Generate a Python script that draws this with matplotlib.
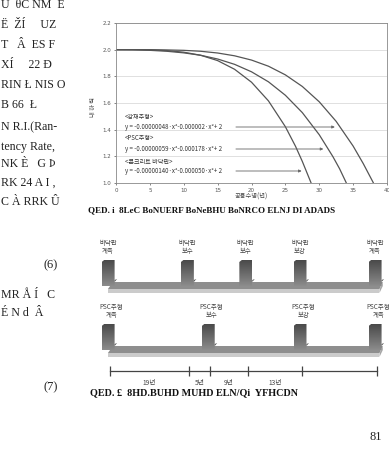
import numpy as np
import matplotlib
matplotlib.use("Agg")
import matplotlib.pyplot as plt
from matplotlib.patches import Polygon
from matplotlib.colors import LinearSegmentedColormap

# ── data ────────────────────────────────────────────────────────────────────
# 공용수명(년) vs 내하력
steel_x = [0, 2.5, 5, 7.5, 10, 12.5, 15, 17.5, 20, 22.5, 25, 27.5, 30, 32.5, 35, 36.5, 38]
steel_y = [2.000, 2.000, 2.000, 1.998, 1.995, 1.988, 1.975, 1.954, 1.922, 1.876,
           1.811, 1.724, 1.609, 1.462, 1.277, 1.145, 1.0]
psc_x = [0, 2.5, 5, 7.5, 10, 12.5, 15, 17.5, 20, 22.5, 25, 27.5, 30, 32, 33, 34]
psc_y = [2.000, 1.999, 1.995, 1.988, 1.976, 1.958, 1.930, 1.890, 1.834, 1.759,
         1.658, 1.528, 1.362, 1.199, 1.107, 1.0]
conc_x = [0, 2.5, 5, 7.5, 10, 12.5, 15, 17.5, 20, 22.5, 25, 26.5, 27.5, 28.8]
conc_y = [2.000, 2.000, 1.998, 1.993, 1.981, 1.958, 1.918, 1.853, 1.756, 1.616,
          1.422, 1.275, 1.162, 1.0]

x_ticks = [0, 5, 10, 15, 20, 25, 30, 35, 40]
y_ticks = [1.0, 1.2, 1.4, 1.6, 1.8, 2.0, 2.2]

note_titles = ["<강재주형>", "<PSC주형>", "<콘크리트 바닥판>"]
note_eqs = ["y = -0.00000048·x⁴-0.000002·x²+ 2",
            "y = -0.00000059·x⁴-0.000178·x²+ 2",
            "y = -0.00000140·x⁴-0.000050·x²+ 2"]
note_tip_x = [32.3, 30.6, 27.4]

# 유지관리 시나리오 (년)
deck_labels = ["바닥판\n계측", "바닥판\n보수", "바닥판\n보수", "바닥판\n보강", "바닥판\n계측"]
deck_years = [0, 19, 33, 46, 64]
girder_labels = ["PSC주형\n계측", "PSC주형\n보수", "PSC주형\n보강", "PSC주형\n계측"]
girder_years = [0, 24, 46, 64]
interval_years = [19, 5, 9, 13]
span_end = 64

# ── figure (pixel based layout) ─────────────────────────────────────────────
W, H = 389, 455
KR = ["Noto Sans CJK KR", "DejaVu Sans"]
SERIF = ["Liberation Serif", "DejaVu Serif"]
fig = plt.figure(figsize=(W / 100, H / 100), dpi=100)
fig.patch.set_facecolor("white")


def px_axes(l, t, r, b):
    return fig.add_axes([l / W, 1 - b / H, (r - l) / W, (b - t) / H])


def ft(x, y, s, **kw):
    fig.text(x / W, 1 - y / H, s, **kw)


# ── chart ───────────────────────────────────────────────────────────────────
ax = px_axes(116, 23, 387, 183)
for v in y_ticks:
    ax.axhline(v, color="#dadada", lw=0.6, zorder=0)
line_kw = dict(color="#555555", lw=0.9, solid_capstyle="round")
ax.plot(steel_x, steel_y, **line_kw)
ax.plot(psc_x, psc_y, **line_kw)
ax.plot(conc_x, conc_y, **line_kw)
ax.set_xlim(0, 40)
ax.set_ylim(1.0, 2.2)
ax.set_xticks(x_ticks)
ax.set_yticks(y_ticks)
ax.set_yticklabels([f"{v:.1f}" for v in y_ticks])
ax.tick_params(labelsize=4, length=1.5, width=0.5, colors="#555555", pad=2)
for sp in ax.spines.values():
    sp.set_color("#888888")
    sp.set_linewidth(0.6)

title_y = [1.495, 1.3375, 1.1575]
eq_y = [1.42, 1.255, 1.09]
for t, e, tx, ty, ey in zip(note_titles, note_eqs, note_tip_x, title_y, eq_y):
    ax.text(1.3, ty, t, fontsize=4.4, family=KR, color="#333333", va="center")
    ax.text(1.3, ey, e, fontsize=4.4, family=KR, color="#333333", va="center")
    ax.annotate("", xy=(tx, ey), xytext=(17.7, ey),
                arrowprops=dict(arrowstyle="-|>", color="#666666", lw=0.6,
                                mutation_scale=4, shrinkA=0, shrinkB=0))

ft(93, 107, "내 하 력", fontsize=4.5, family=KR, color="#444444",
   rotation=90, ha="center", va="center")
ft(251, 197, "공용수명(년)", fontsize=4.5, family=KR, color="#444444",
   ha="center", va="center")

# ── timeline diagram ────────────────────────────────────────────────────────
# 267 px for 64 years, with 3 years of margin on each side
tl = px_axes(97.5, 225, 389.5, 400)
tl.axis("off")
block_cmap = LinearSegmentedColormap.from_list("blk", ["#8c8c8c", "#6a6a6a", "#4a4a4a"])


def draw_beam(top):
    x0, x1 = -0.5, span_end + 1.4
    face = Polygon([(x0, top + 7), (x0 + 1.2, top), (x1, top), (x1 - 0.8, top + 7)],
                   closed=True, fc="#8e8e8e", ec="none")
    front = Polygon([(x0, top + 7), (x1 - 0.8, top + 7), (x1 - 0.8, top + 11), (x0, top + 11)],
                    closed=True, fc="#cbcbcb", ec="none")
    side = Polygon([(x1 - 0.8, top + 7), (x1, top), (x1, top + 4), (x1 - 0.8, top + 11)],
                   closed=True, fc="#a8a8a8", ec="none")
    for p in (face, front, side):
        tl.add_patch(p)


def draw_marker(xc, top, bottom):
    x0, x1 = xc - 2.0, xc + 1.1
    poly = Polygon([(x0, bottom), (x0, top + 2), (x0 + 0.6, top), (x1, top), (x1, bottom)],
                   closed=True, fc="none", ec="none")
    tl.add_patch(poly)
    grad = np.linspace(0, 1, 60).reshape(-1, 1)
    im = tl.imshow(grad, cmap=block_cmap, aspect="auto",
                   extent=[x0, x1, bottom, top], origin="lower", zorder=3)
    im.set_clip_path(poly)
    tl.add_patch(Polygon([(x1, bottom - 6), (x1 + 0.6, bottom - 7), (x1, bottom - 4)],
                         closed=True, fc="#555555", ec="none", zorder=4))


draw_beam(282)
draw_beam(346)
for lab, yr in zip(deck_labels, deck_years):
    draw_marker(yr, 260, 286)
    tl.text(yr - 0.5, 247, lab, fontsize=4.6, family=KR, color="#444444",
            ha="center", va="center", linespacing=1.1)
for lab, yr in zip(girder_labels, girder_years):
    draw_marker(yr, 324, 350)
    tl.text(yr + 0.3, 311, lab, fontsize=4.6, family=KR, color="#444444",
            ha="center", va="center", linespacing=1.1)

ticks = np.concatenate([[0], np.cumsum(interval_years), [span_end]])
tl.plot([0, span_end], [371, 371], color="#444444", lw=0.9)
tl.vlines(ticks, 366, 376, color="#444444", lw=0.9)
for a, b, n in zip(ticks[:-2], ticks[1:-1], interval_years):
    tl.text((a + b) / 2, 383, f"{n}년", fontsize=4.8, family=KR, color="#444444",
            ha="center", va="center")
tl.set_xlim(-3, span_end + 3)
tl.set_ylim(400, 225)

# ── page text (as scanned) ──────────────────────────────────────────────────
left_lines = [(5, "Ú  θC NM  É"), (25, "Ë  ŽÍ     UZ"), (45, "T   Â  ES F"),
              (65, "XÍ     22 Ð"), (85, "RIN Ł NIS O"), (105, "B 66  Ł"),
              (127, "N R.I.(Ran-"), (147, "tency Rate,"), (164, "NK È   G Þ"),
              (183, "RK 24 A I ,"), (202, "C À RRK Û"),
              (295, "MR Å Í   C"), (313, "É N d  Â")]
for y, s in left_lines:
    ft(1, y, s, fontsize=8.6, family=SERIF, color="#222222", va="center")
ft(51, 265, "(6)", fontsize=9, family=SERIF, color="#222222", ha="center", va="center")
ft(51, 387, "(7)", fontsize=9, family=SERIF, color="#222222", ha="center", va="center")

ft(88, 210, "QED. i  8LeC BoNUERF BoNeBHU BoNRCO ELNJ DI ADADS",
   fontsize=6.5, family=SERIF, color="#111111", va="center", weight="bold")
ft(90, 393, "QED. £  8HD.BUHD MUHD ELN/Qi  YFHCDN",
   fontsize=7.3, family=SERIF, color="#111111", va="center", weight="bold")
ft(376, 437, "81", fontsize=9, family=SERIF, color="#222222", ha="center", va="center")

fig.savefig("out.png", dpi=100)
